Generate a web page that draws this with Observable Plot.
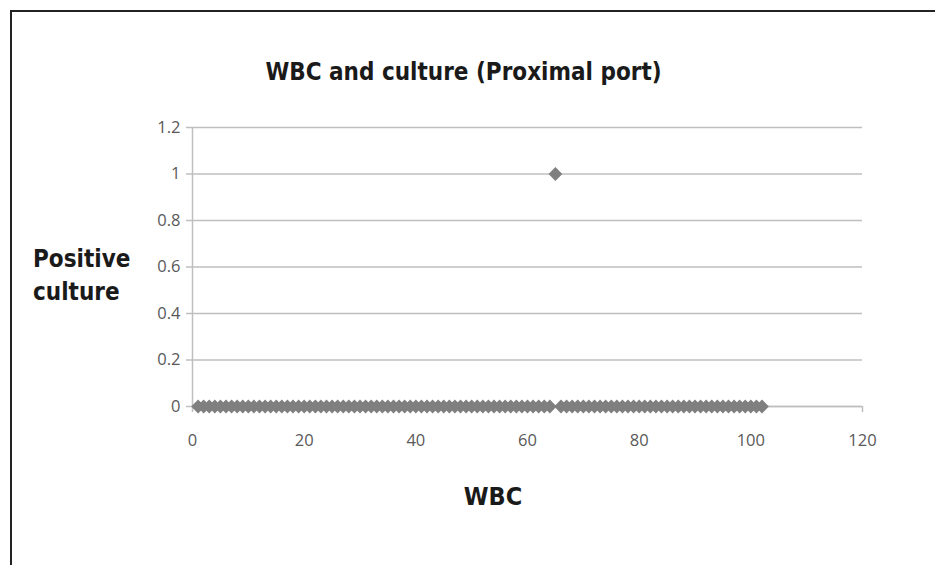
<!DOCTYPE html>
<html><head><meta charset="utf-8">
<script src="https://cdn.jsdelivr.net/npm/d3@7"></script>
<script src="https://cdn.jsdelivr.net/npm/@observablehq/plot@0.6"></script>
<style>
body{margin:0;background:#fff;}
#wrap{position:relative;width:935px;height:565px;overflow:hidden;}
#frame{position:absolute;left:10px;top:10px;width:940px;height:570px;border-top:2px solid #222;border-left:2px solid #222;}
.lbl{position:absolute;font-weight:bold;color:#1a1a1a;white-space:nowrap;font-family:"DejaVu Sans Condensed","Liberation Sans Narrow","Liberation Sans",sans-serif;font-stretch:condensed;}
#title{left:0;width:927px;text-align:center;top:58px;font-size:24px;}
#ylab{left:33px;top:243px;font-size:24px;line-height:33px;}
#xlab{left:0;width:986px;text-align:center;top:482px;font-size:25px;}
#chart{position:absolute;left:0;top:0;}
</style></head>
<body><div id="wrap"><div id="frame"></div>
<div id="chart"></div>
<div class="lbl" id="title">WBC and culture (Proximal port)</div>
<div class="lbl" id="ylab">Positive<br>culture</div>
<div class="lbl" id="xlab">WBC</div>
</div>
<script>
const wbcNegative = [1,2,3,4,5,6,7,8,9,10,11,12,13,14,15,16,17,18,19,20,21,22,23,24,25,26,27,28,29,30,31,32,33,34,35,36,37,38,39,40,41,42,43,44,45,46,47,48,49,50,51,52,53,54,55,56,57,58,59,60,61,62,63,64,66,67,68,69,70,71,72,73,74,75,76,77,78,79,80,81,82,83,84,85,86,87,88,89,90,91,92,93,94,95,96,97,98,99,100,101,102];
const wbcPositive = [65];
const xTicks = [0,20,40,60,80,100,120];
const yTicks = [0,0.2,0.4,0.6,0.8,1,1.2];
const yTickLabels = ["0","0.2","0.4","0.6","0.8","1","1.2"];

const data = [
  ...wbcNegative.map(x => ({wbc: x, culture: 0})),
  ...wbcPositive.map(x => ({wbc: x, culture: 1}))
];

const plot = Plot.plot({
  width: 935, height: 565,
  marginLeft: 192, marginRight: 73, marginTop: 127, marginBottom: 159,
  style: {fontFamily: "'Open Sans', sans-serif", fontSize: "16.5px", color: "#595959", background: "transparent"},
  x: {domain: [0,120], ticks: xTicks, label: null},
  y: {domain: [0,1.2], ticks: yTicks, label: null},
  marks: [
    Plot.gridY(yTicks, {stroke: "#bfbfbf", strokeOpacity: 1, strokeWidth: 1.5}),
    Plot.ruleX([0], {y1: 0, y2: 1.2, stroke: "#bfbfbf", strokeWidth: 1.5}),
    Plot.ruleY([0], {stroke: "#bfbfbf", strokeWidth: 1.5}),
    Plot.axisY({ticks: yTicks, tickFormat: (d, i) => yTickLabels[i], tickSize: 6, tickPadding: 6, stroke: "#bfbfbf", strokeWidth: 1.5, fill: "#595959"}),
    Plot.axisX({ticks: xTicks, tickSize: 6, tickPadding: 22, stroke: "#bfbfbf", strokeWidth: 1.5, fill: "#595959"}),
    Plot.dot(data, {x: "wbc", y: "culture", symbol: "diamond2", r: 6.2, fill: "#7f7f7f", stroke: "none"})
  ]
});
document.getElementById("chart").appendChild(plot);
</script></body></html>
